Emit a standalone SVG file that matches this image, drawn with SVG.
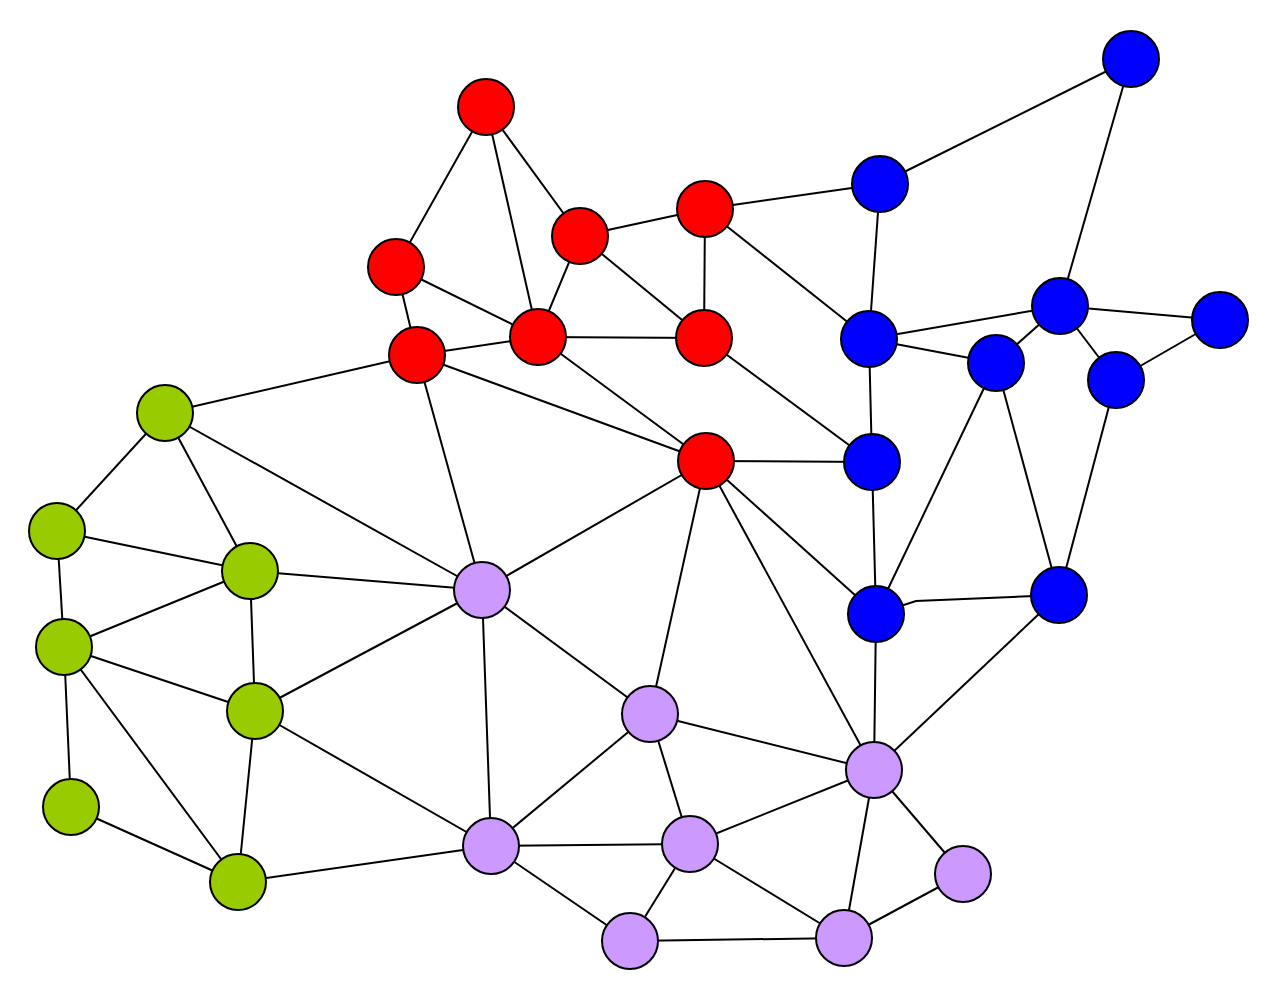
<svg xmlns="http://www.w3.org/2000/svg" width="1278" height="1000" viewBox="0 0 1278 1000">
<style>
.e{stroke:#000;stroke-width:2;fill:none}
circle{stroke:#000;stroke-width:2}
.r{fill:#ff0000}.b{fill:#0000ff}.g{fill:#99cc00}.p{fill:#cc99ff}
</style>
<rect width="1278" height="1000" fill="#fff"/>
<g id="edges" class="e">
<line x1="486" y1="107" x2="396" y2="267"/>
<line x1="486" y1="107" x2="538" y2="337"/>
<line x1="486" y1="107" x2="580" y2="236"/>
<line x1="580" y1="236" x2="705" y2="209"/>
<line x1="580" y1="236" x2="538" y2="337"/>
<line x1="580" y1="236" x2="704" y2="338"/>
<line x1="705" y1="209" x2="704" y2="338"/>
<line x1="705" y1="209" x2="880" y2="184"/>
<line x1="705" y1="209" x2="869" y2="339"/>
<line x1="396" y1="267" x2="538" y2="337"/>
<line x1="396" y1="267" x2="417" y2="355"/>
<line x1="538" y1="337" x2="417" y2="355"/>
<line x1="538" y1="337" x2="704" y2="338"/>
<line x1="538" y1="337" x2="706" y2="461"/>
<line x1="704" y1="338" x2="872" y2="462"/>
<line x1="417" y1="355" x2="165" y2="413"/>
<line x1="417" y1="355" x2="706" y2="461"/>
<line x1="417" y1="355" x2="482" y2="590"/>
<line x1="706" y1="461" x2="872" y2="462"/>
<line x1="706" y1="461" x2="876" y2="614"/>
<line x1="706" y1="461" x2="482" y2="590"/>
<line x1="706" y1="461" x2="650" y2="714"/>
<line x1="706" y1="461" x2="874" y2="770"/>
<line x1="1131" y1="59" x2="880" y2="184"/>
<line x1="1131" y1="59" x2="1060" y2="306"/>
<line x1="880" y1="184" x2="869" y2="339"/>
<line x1="869" y1="339" x2="1060" y2="306"/>
<line x1="869" y1="339" x2="996" y2="363"/>
<line x1="869" y1="339" x2="872" y2="462"/>
<line x1="1060" y1="306" x2="1220" y2="320"/>
<line x1="1060" y1="306" x2="996" y2="363"/>
<line x1="1060" y1="306" x2="1116" y2="380"/>
<line x1="1220" y1="320" x2="1116" y2="380"/>
<line x1="996" y1="363" x2="876" y2="614"/>
<line x1="996" y1="363" x2="1059" y2="595"/>
<line x1="1116" y1="380" x2="1059" y2="595"/>
<line x1="872" y1="462" x2="876" y2="614"/>
<polyline points="876,614 916,601 1059,595"/>
<line x1="876" y1="614" x2="874" y2="770"/>
<line x1="1059" y1="595" x2="874" y2="770"/>
<line x1="165" y1="413" x2="57" y2="531"/>
<line x1="165" y1="413" x2="250" y2="571"/>
<line x1="165" y1="413" x2="482" y2="590"/>
<line x1="57" y1="531" x2="250" y2="571"/>
<line x1="57" y1="531" x2="64" y2="647"/>
<line x1="250" y1="571" x2="64" y2="647"/>
<line x1="250" y1="571" x2="255" y2="711"/>
<line x1="250" y1="571" x2="482" y2="590"/>
<line x1="64" y1="647" x2="255" y2="711"/>
<line x1="64" y1="647" x2="71" y2="807"/>
<line x1="64" y1="647" x2="238" y2="882"/>
<line x1="255" y1="711" x2="482" y2="590"/>
<line x1="255" y1="711" x2="491" y2="846"/>
<line x1="255" y1="711" x2="238" y2="882"/>
<line x1="71" y1="807" x2="238" y2="882"/>
<line x1="238" y1="882" x2="491" y2="846"/>
<line x1="482" y1="590" x2="650" y2="714"/>
<line x1="482" y1="590" x2="491" y2="846"/>
<line x1="650" y1="714" x2="874" y2="770"/>
<line x1="650" y1="714" x2="491" y2="846"/>
<line x1="650" y1="714" x2="690" y2="844"/>
<line x1="874" y1="770" x2="690" y2="844"/>
<line x1="874" y1="770" x2="963" y2="874"/>
<line x1="874" y1="770" x2="844" y2="938"/>
<line x1="491" y1="846" x2="690" y2="844"/>
<line x1="491" y1="846" x2="630" y2="941"/>
<line x1="690" y1="844" x2="630" y2="941"/>
<line x1="690" y1="844" x2="844" y2="938"/>
<line x1="963" y1="874" x2="844" y2="938"/>
<line x1="630" y1="941" x2="844" y2="938"/>
</g>
<g id="R1"><circle class="r" cx="486" cy="107" r="28"/></g>
<g id="R2"><circle class="r" cx="580" cy="236" r="28"/></g>
<g id="R3"><circle class="r" cx="705" cy="209" r="28"/></g>
<g id="R4"><circle class="r" cx="396" cy="267" r="28"/></g>
<g id="R5"><circle class="r" cx="538" cy="337" r="28"/></g>
<g id="R6"><circle class="r" cx="704" cy="338" r="28"/></g>
<g id="R7"><circle class="r" cx="417" cy="355" r="28"/></g>
<g id="R8"><circle class="r" cx="706" cy="461" r="28"/></g>
<g id="B1"><circle class="b" cx="1131" cy="59" r="28"/></g>
<g id="B2"><circle class="b" cx="880" cy="184" r="28"/></g>
<g id="B3"><circle class="b" cx="869" cy="339" r="28"/></g>
<g id="B4"><circle class="b" cx="1060" cy="306" r="28"/></g>
<g id="B5"><circle class="b" cx="1220" cy="320" r="28"/></g>
<g id="B6"><circle class="b" cx="996" cy="363" r="28"/></g>
<g id="B7"><circle class="b" cx="1116" cy="380" r="28"/></g>
<g id="B8"><circle class="b" cx="872" cy="462" r="28"/></g>
<g id="B9"><circle class="b" cx="876" cy="614" r="28"/></g>
<g id="B10"><circle class="b" cx="1059" cy="595" r="28"/></g>
<g id="G1"><circle class="g" cx="165" cy="413" r="28"/></g>
<g id="G2"><circle class="g" cx="57" cy="531" r="28"/></g>
<g id="G3"><circle class="g" cx="250" cy="571" r="28"/></g>
<g id="G4"><circle class="g" cx="64" cy="647" r="28"/></g>
<g id="G5"><circle class="g" cx="255" cy="711" r="28"/></g>
<g id="G6"><circle class="g" cx="71" cy="807" r="28"/></g>
<g id="G7"><circle class="g" cx="238" cy="882" r="28"/></g>
<g id="P1"><circle class="p" cx="482" cy="590" r="28"/></g>
<g id="P2"><circle class="p" cx="650" cy="714" r="28"/></g>
<g id="P3"><circle class="p" cx="874" cy="770" r="28"/></g>
<g id="P4"><circle class="p" cx="491" cy="846" r="28"/></g>
<g id="P5"><circle class="p" cx="690" cy="844" r="28"/></g>
<g id="P6"><circle class="p" cx="963" cy="874" r="28"/></g>
<g id="P7"><circle class="p" cx="630" cy="941" r="28"/></g>
<g id="P8"><circle class="p" cx="844" cy="938" r="28"/></g>
</svg>
